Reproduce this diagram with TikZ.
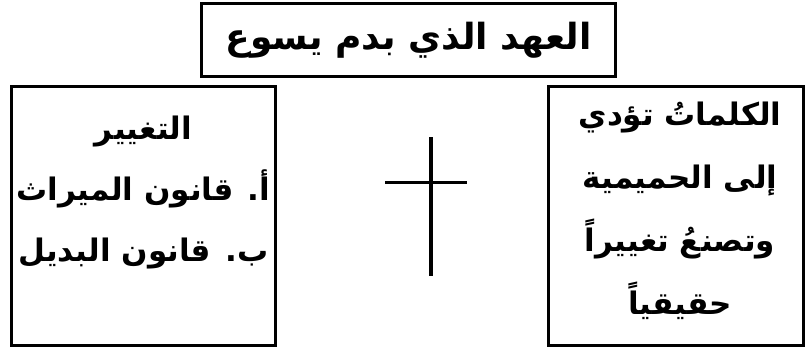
\documentclass[tikz,border=0pt]{standalone}
\usepackage{fontspec}
\newfontfamily\arabicfont[Script=Arabic]{DejaVu Sans}
\TeXXeTstate=1
\usetikzlibrary{positioning}

\begin{document}
\begin{tikzpicture}[x=1pt,y=1pt,
  panel/.style={draw,line width=3pt,inner sep=0pt},
  title/.style={font=\arabicfont\bfseries\fontsize{36}{40}\selectfont},
  words/.style={font=\arabicfont\bfseries\fontsize{31}{61}\selectfont,align=center,inner sep=0pt}]
  \useasboundingbox (0,0) rectangle (808,349);
  \node[panel,title,minimum width=414pt,minimum height=73pt] (covenant) at (408.5,309) {\beginR العهد الذي بدم يسوع\endR};
  \node[panel,minimum width=264pt,minimum height=259pt] (change) at (143.5,133) {};
  \node[panel,minimum width=255pt,minimum height=259pt] (words) at (676,133) {};
  \node[words,below=31pt of change.north] (changeText) {\beginR التغيير\endR\\
    \beginR أ. قانون الميراث\endR\\
    \beginR ب. قانون البديل\endR};
  \node[words,below=17pt of words.north,xshift=4pt,
    font=\arabicfont\bfseries\fontsize{31}{63}\selectfont] (wordsText) {\beginR الكلماتُ تؤدي\endR\\
    \beginR إلى الحميمية\endR\\
    \beginR وتصنعُ تغييراً\endR\\
    \beginR حقيقياً\endR};
  % the cross
  \draw[line width=4pt] (431,212) -- (431,73);
  \draw[line width=3pt] (385,167) -- (467,167);
\end{tikzpicture}
\end{document}
